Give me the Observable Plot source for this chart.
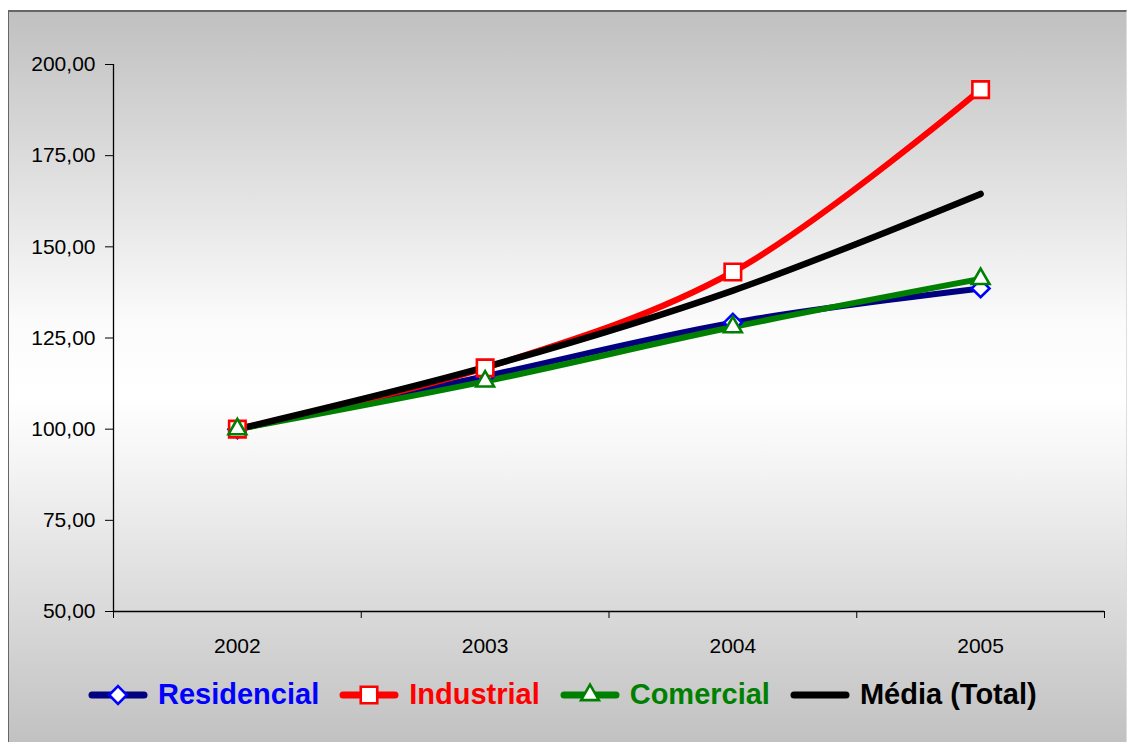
<!DOCTYPE html>
<html>
<head>
<meta charset="utf-8">
<script src="https://cdn.jsdelivr.net/npm/d3@7"></script>
<script src="https://cdn.jsdelivr.net/npm/@observablehq/plot@0.6"></script>
<style>
  html, body { margin: 0; padding: 0; background: #fff; }
  #wrap { position: relative; width: 1129px; height: 742px; overflow: hidden; font-family: "Liberation Sans", Arial, sans-serif; }
  #bg { position: absolute; left: 8px; top: 10px; width: 1119px; height: 740px; box-sizing: border-box;
        border-left: 1px solid #666; border-top: 2px solid #666; border-right: 1px solid #ddd;
        background: linear-gradient(#c0c0c0 0%, #fbfbfb 42%, #ffffff 52%, #f6f6f6 60%, #c0c0c0 100%); }
  #chart { position: absolute; left: 0; top: 0; }
  #legend { position: absolute; left: 0; top: 665px; width: 1129px; height: 77px; display: flex; align-items: center;
            padding-left: 88px; box-sizing: border-box; gap: 20px; margin-top: -9px; }
  .item { display: flex; align-items: center; font-weight: bold; font-size: 29px; }
  .item svg { margin-right: 10px; }
</style>
</head>
<body>
<div id="wrap">
  <div id="bg"></div>
  <div id="chart"></div>
  <div id="legend"></div>
</div>
<script>
const years = [2002, 2003, 2004, 2005];
const residencial = [100.0, 114.5, 129.2, 138.6];
const industrial = [100.0, 116.8, 143.1, 193.1];
const comercial = [100.0, 113.1, 128.0, 141.2];
const media = [100.0, 117.0, 138.0, 164.5];
const yTicks = [50, 75, 100, 125, 150, 175, 200];
const seriesNames = ["Residencial", "Industrial", "Comercial", "Média (Total)"];

const lineColors = ["#000080", "#ff0000", "#008000", "#000000"];
const markerColors = ["#0000ff", "#ff0000", "#008000", null];
const symbols = ["diamond2", "square2", "triangle2", null];
const radii = [8, 10.5, 8.5, 0];

const allSeries = [residencial, industrial, comercial, media];
const rows = allSeries.map((vals, i) => years.map((y, j) => ({year: y, value: vals[j], series: seriesNames[i]})));

const fmt = d => d.toFixed(2).replace(".", ",");
const boundaries = [2001.5, 2002.5, 2003.5, 2004.5, 2005.5];

const marks = [
  Plot.ruleY([50], {stroke: "#000", strokeWidth: 1.3}),
  Plot.ruleX([2001.5], {y1: 50, y2: 200, stroke: "#000", strokeWidth: 1.3}),
  Plot.axisY({ticks: yTicks, tickFormat: fmt, tickSize: 8, tickPadding: 10, fontSize: 21, stroke: "#000", label: null}),
  Plot.axisX({ticks: boundaries, tickFormat: () => "", tickSize: 7, stroke: "#000", label: null}),
  Plot.axisX({ticks: years, tickFormat: d => String(d), tickSize: 0, tickPadding: 27, fontSize: 21, label: null})
];
rows.forEach((data, i) => {
  marks.push(Plot.line(data, {x: "year", y: "value", stroke: lineColors[i], strokeWidth: i === 3 ? 6.5 : 6,
    curve: "catmull-rom", strokeLinecap: "round", strokeLinejoin: "round"}));
});
rows.forEach((data, i) => {
  if (symbols[i]) marks.push(Plot.dot(data, {x: "year", y: "value", symbol: symbols[i], r: radii[i],
    fill: "#fff", stroke: markerColors[i], strokeWidth: 2.6}));
});

const chart = Plot.plot({
  width: 1129,
  height: 665,
  marginLeft: 113,
  marginRight: 25,
  marginTop: 64,
  marginBottom: 54,
  style: {background: "transparent", fontFamily: "'Liberation Sans', Arial, sans-serif", color: "#000", overflow: "visible"},
  x: {type: "linear", domain: [2001.5, 2005.5], axis: null, label: null},
  y: {domain: [50, 200], axis: null, label: null},
  marks
});
document.getElementById("chart").appendChild(chart);

// Legend
const textColors = ["#0000ff", "#ff0000", "#008000", "#000000"];
const legend = d3.select("#legend");
seriesNames.forEach((name, i) => {
  const item = legend.append("div").attr("class", "item").style("color", textColors[i]);
  const svg = item.append("svg").attr("width", 60).attr("height", 26);
  svg.append("line").attr("x1", 4).attr("x2", 56).attr("y1", 13).attr("y2", 13)
    .attr("stroke", lineColors[i]).attr("stroke-width", 7).attr("stroke-linecap", "round");
  if (symbols[i]) {
    const symMap = {diamond2: d3.symbolDiamond2, square2: d3.symbolSquare2, triangle2: d3.symbolTriangle2};
    const size = Math.PI * radii[i] * radii[i];
    svg.append("path").attr("d", d3.symbol(symMap[symbols[i]], size)()).attr("transform", "translate(30,13)")
      .attr("fill", "#fff").attr("stroke", markerColors[i]).attr("stroke-width", 2.6);
  }
  item.append("span").text(name);
});
</script>
</body>
</html>
